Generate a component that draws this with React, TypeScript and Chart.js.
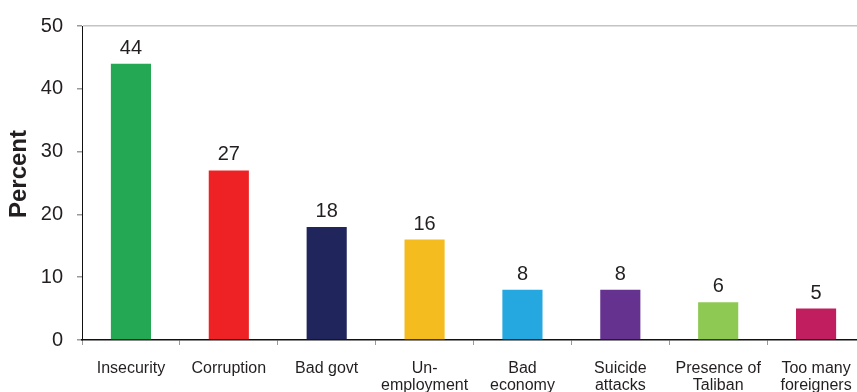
import React, { useEffect, useRef } from "react";
import { Chart, registerables } from "chart.js";

Chart.register(...registerables);

const categories: (string | string[])[] = [
  "Insecurity",
  "Corruption",
  "Bad govt",
  ["Un-", "employment"],
  ["Bad", "economy"],
  ["Suicide", "attacks"],
  ["Presence of", "Taliban"],
  ["Too many", "foreigners"],
];
const values = [44, 27, 18, 16, 8, 8, 6, 5];
const barColors = [
  "#24a853",
  "#ee2225",
  "#20255b",
  "#f5bc20",
  "#25a8e0",
  "#663290",
  "#8dc953",
  "#c01e5e",
];
const yTicks = [0, 10, 20, 30, 40, 50];
const yTitle = "Percent";

const FONT = "'Liberation Sans', Arial, sans-serif";
const TEXT = "#231f20";

export default function App() {
  const ref = useRef<HTMLCanvasElement | null>(null);
  useEffect(() => {
    if (!ref.current) return;
    const labelPlugin = {
      id: "valueLabels",
      afterDatasetsDraw(chart: any) {
        const ctx = chart.ctx;
        const meta = chart.getDatasetMeta(0);
        ctx.save();
        ctx.font = `20px ${FONT}`;
        ctx.fillStyle = TEXT;
        ctx.textAlign = "center";
        ctx.textBaseline = "alphabetic";
        meta.data.forEach((bar: any, i: number) => {
          ctx.fillText(String(values[i]), bar.x, bar.y - 10);
        });
        ctx.restore();
      },
    };
    const titlePlugin = {
      id: "yTitle",
      afterDraw(chart: any) {
        const ctx = chart.ctx;
        ctx.save();
        ctx.translate(19, 174);
        ctx.rotate(-Math.PI / 2);
        ctx.font = `bold 24px ${FONT}`;
        ctx.fillStyle = TEXT;
        ctx.textAlign = "center";
        ctx.textBaseline = "middle";
        ctx.fillText(yTitle, 0, 0);
        ctx.restore();
      },
    };
    const chart = new Chart(ref.current, {
      type: "bar",
      data: {
        labels: categories,
        datasets: [
          {
            data: values,
            backgroundColor: barColors,
            borderWidth: 0,
            categoryPercentage: 1,
            barPercentage: 0.41,
          },
        ],
      },
      options: {
        responsive: false,
        animation: false,
        layout: { padding: { top: 20, right: 15, left: 0, bottom: 0 } },
        plugins: {
          legend: { display: false },
          tooltip: { enabled: false },
        },
        scales: {
          x: {
            afterFit(scale: any) {
              scale.height = 80;
            },
            grid: {
              display: true,
              drawOnChartArea: false,
              drawTicks: true,
              tickLength: 5,
              tickColor: "#9a9a9a",
              offset: true,
            },
            border: { display: true, color: "#111", width: 1.5 },
            ticks: {
              color: TEXT,
              font: { family: FONT, size: 16, lineHeight: 1.05 },
              padding: 15,
              maxRotation: 0,
              autoSkip: false,
            },
          },
          y: {
            min: 0,
            max: 50,
            afterFit(scale: any) {
              scale.width = 82;
            },
            afterBuildTicks(scale: any) {
              scale.ticks = yTicks.map((v) => ({ value: v }));
            },
            grid: {
              display: true,
              drawOnChartArea: true,
              color: (c: any) =>
                c.tick && c.tick.value === 50 ? "#c4c4c4" : "rgba(0,0,0,0)",
              lineWidth: 1.5,
              drawTicks: true,
              tickLength: 5,
              tickColor: "#9a9a9a",
            },
            border: { display: true, color: "#111", width: 1 },
            ticks: {
              color: TEXT,
              font: { family: FONT, size: 20 },
              padding: 14,
            },
          },
        },
      },
      plugins: [labelPlugin, titlePlugin],
    } as any);
    return () => chart.destroy();
  }, []);
  return (
    <div
      style={{
        position: "fixed",
        left: 0,
        top: 0,
        width: 857,
        height: 392,
        overflow: "hidden",
        background: "#fff",
      }}
    >
      <canvas ref={ref} width={880} height={420} style={{ display: "block" }} />
    </div>
  );
}
